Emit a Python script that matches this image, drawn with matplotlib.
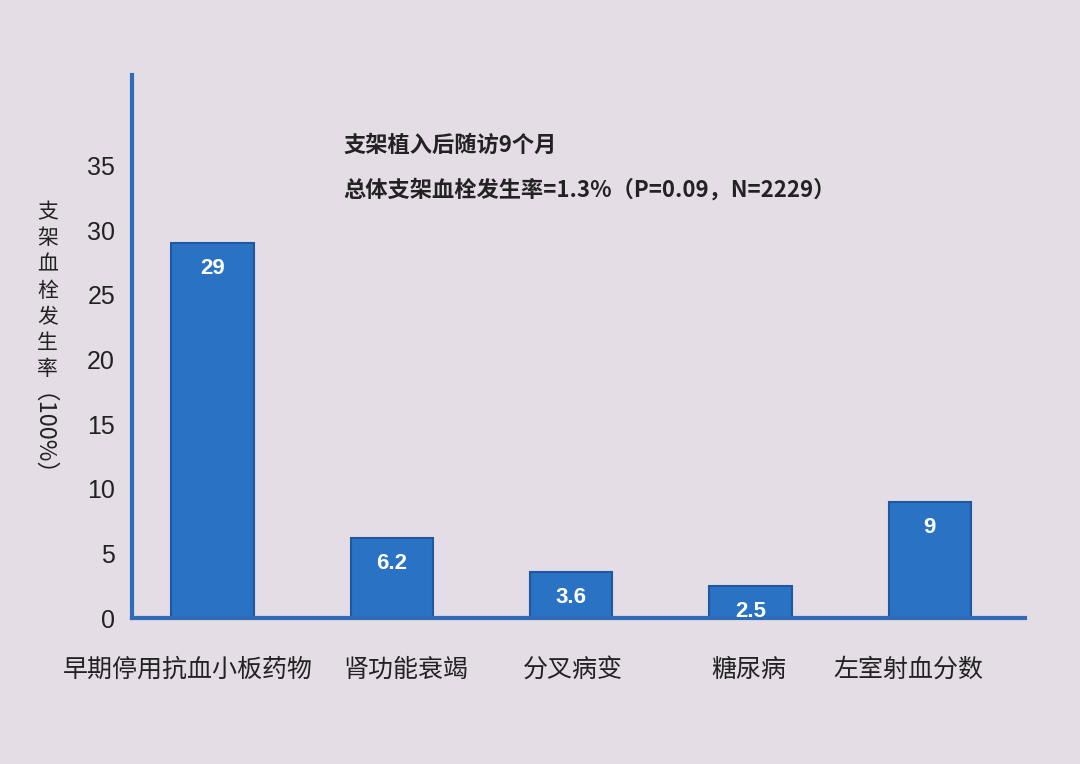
import matplotlib
matplotlib.use("Agg")
import matplotlib.pyplot as plt
import matplotlib.transforms as mtransforms

plt.rcParams['font.family'] = ['Noto Sans CJK SC', 'DejaVu Sans']

categories = ["早期停用抗血小板药物", "肾功能衰竭", "分叉病变", "糖尿病", "左室射血分数"]
rates = [29, 6.2, 3.6, 2.5, 9]
yticks = [0, 5, 10, 15, 20, 25, 30, 35]

bg = "#e4dde5"
blue = "#2a72c4"
edge = "#1d58a0"

fig = plt.figure(figsize=(10.8, 7.64), dpi=100, facecolor=bg)
ax = fig.add_axes([0.122, 0.191, 0.827, 0.711], facecolor=bg)

x = list(range(len(categories)))
bars = ax.bar(x, rates, width=0.46, color=blue, edgecolor=edge, linewidth=1.5, zorder=2)

for b, v in zip(bars, rates):
    ax.text(b.get_x() + b.get_width() / 2, v - 2.0, f"{v:g}", ha="center", va="center",
            color="white", fontsize=16, fontweight="bold", family="Liberation Sans")

ax.set_xlim(-0.45, 4.53)
ax.set_ylim(0, 42)
ax.set_yticks(yticks)
ax.set_yticklabels([str(t) for t in yticks], family="Liberation Sans", fontsize=18, color="#222222")
ax.set_xticks(x)
ax.set_xticklabels(categories, fontsize=18, color="#222222")
ax.tick_params(axis="y", length=0, pad=12)
ax.tick_params(axis="x", length=0, pad=28)

# the labels in the original sit a little off their bars
shifts = [-0.25, 0.14, 0.02, -0.02, -0.22]
for lab, dx in zip(ax.get_xticklabels(), shifts):
    lab.set_transform(lab.get_transform() + mtransforms.ScaledTranslation(dx, 0, fig.dpi_scale_trans))

for s in ["top", "right"]:
    ax.spines[s].set_visible(False)
for s in ["left", "bottom"]:
    ax.spines[s].set_color("#2f6cb8")
    ax.spines[s].set_linewidth(3)

# y label: stacked characters, then the rotated unit
fig.text(0.044, 0.737, "支\n架\n血\n栓\n发\n生\n率", ha="center", va="top", fontsize=15,
         linespacing=1.25, color="#222222")
fig.text(0.027, 0.415, "（100%）", ha="center", va="center", rotation=-90,
         rotation_mode="anchor", fontsize=17, color="#222222")

fig.text(0.318, 0.81, "支架植入后随访9个月", fontsize=16, fontweight="bold", color="#222222", va="center")
fig.text(0.318, 0.751, "总体支架血栓发生率=1.3%（P=0.09，N=2229）", fontsize=16, fontweight="bold",
         color="#222222", va="center")

fig.savefig("out.png", dpi=100, facecolor=bg)
